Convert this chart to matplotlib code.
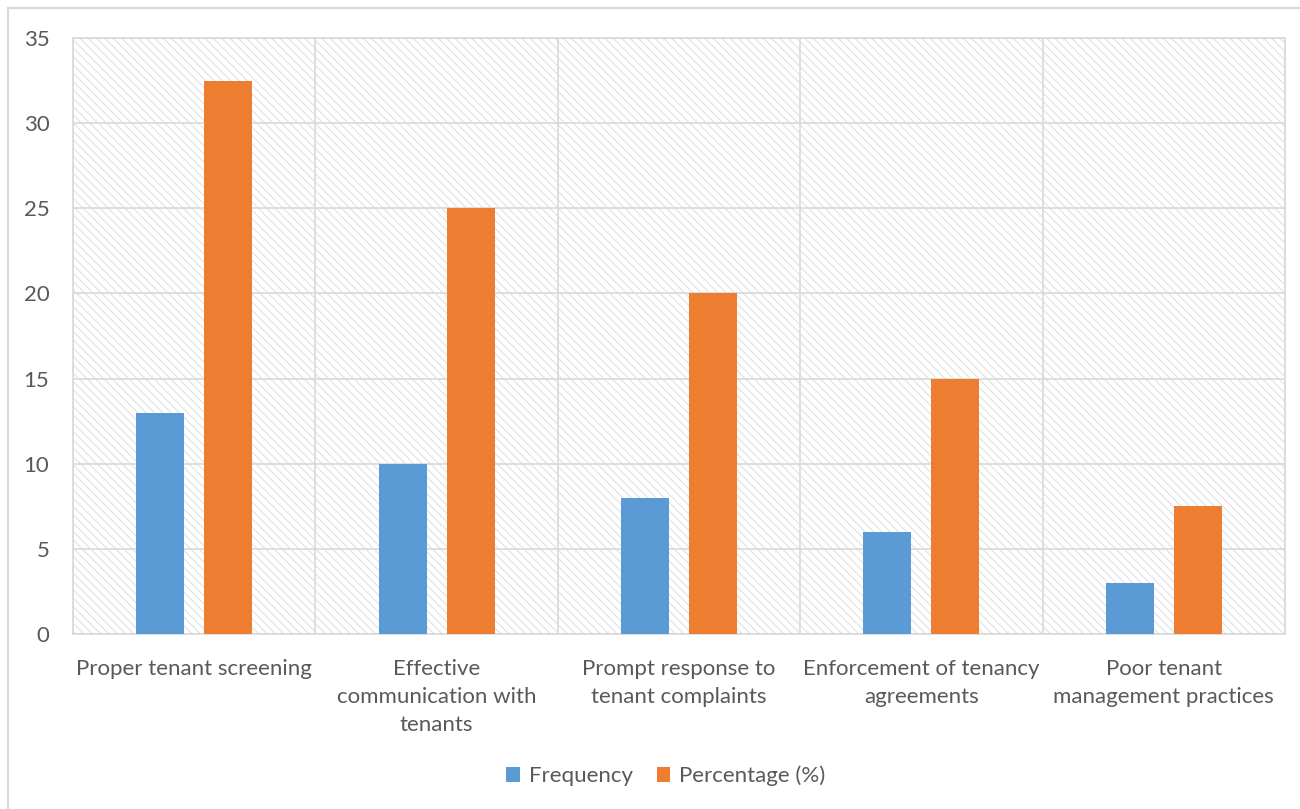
import matplotlib
matplotlib.use("Agg")
import matplotlib.pyplot as plt
from matplotlib.patches import Rectangle
import numpy as np

categories = ["Proper tenant screening",
              "Effective\ncommunication with\ntenants",
              "Prompt response to\ntenant complaints",
              "Enforcement of tenancy\nagreements",
              "Poor tenant\nmanagement practices"]
frequency = [13, 10, 8, 6, 3]
percentage = [32.5, 25, 20, 15, 7.5]
series_names = ["Frequency", "Percentage (%)"]
yticks = [0, 5, 10, 15, 20, 25, 30, 35]

blue = "#5B9BD5"
orange = "#ED7D31"
text_col = "#595959"
grid_col = "#D9D9D9"
fs = 16

plt.rcParams['font.family'] = ['Lato', 'DejaVu Sans']
plt.rcParams['hatch.color'] = '#DEDEDE'
plt.rcParams['hatch.linewidth'] = 0.7

fig = plt.figure(figsize=(13, 8.09), dpi=100)
# outer border
fig.patches.append(Rectangle((8/1300, -0.01), 1.02, 1 - 8/809 + 0.01, transform=fig.transFigure,
                             fill=False, edgecolor=grid_col, linewidth=1.5, zorder=0))

ax = fig.add_axes([73/1300, 1 - 634/809, (1285-73)/1300, (634-38)/809])
n = len(categories)
x = np.arange(n)
ax.set_xlim(-0.5, n - 0.5)
ax.set_ylim(0, 35)

# hatched background
ax.add_patch(Rectangle((0, 0), 1, 1, transform=ax.transAxes, facecolor='white',
                       edgecolor='#DEDEDE', hatch='\\\\\\\\', linewidth=0, zorder=0))

w = 0.198
off = 0.14
ax.bar(x - off, frequency, width=w, color=blue, label=series_names[0], zorder=3)
ax.bar(x + off, percentage, width=w, color=orange, label=series_names[1], zorder=3)

ax.set_yticks(yticks)
ax.set_xticks(x)
ax.set_xticklabels(categories, fontsize=fs, color=text_col, linespacing=1.5, va='top')
ax.set_xticks(np.arange(n + 1) - 0.5, minor=True)
ax.tick_params(axis='both', which='both', length=0)
ax.tick_params(axis='x', pad=18)
ax.tick_params(axis='y', pad=17, labelsize=fs, labelcolor=text_col)
ax.yaxis.grid(True, color=grid_col, linewidth=1.2, zorder=1)
ax.xaxis.grid(True, which='minor', color=grid_col, linewidth=1.2, zorder=1)
ax.xaxis.grid(False, which='major')
ax.set_axisbelow(True)
for s in ax.spines.values():
    s.set_color(grid_col)
    s.set_linewidth(1.2)

leg = fig.legend(loc='center', bbox_to_anchor=(666/1300, 1 - 776/809), ncol=2, frameon=False,
                 fontsize=fs, handlelength=0.6, handleheight=0.6, columnspacing=1.1,
                 handletextpad=0.4, labelcolor=text_col)

fig.savefig("out.png", dpi=100)
